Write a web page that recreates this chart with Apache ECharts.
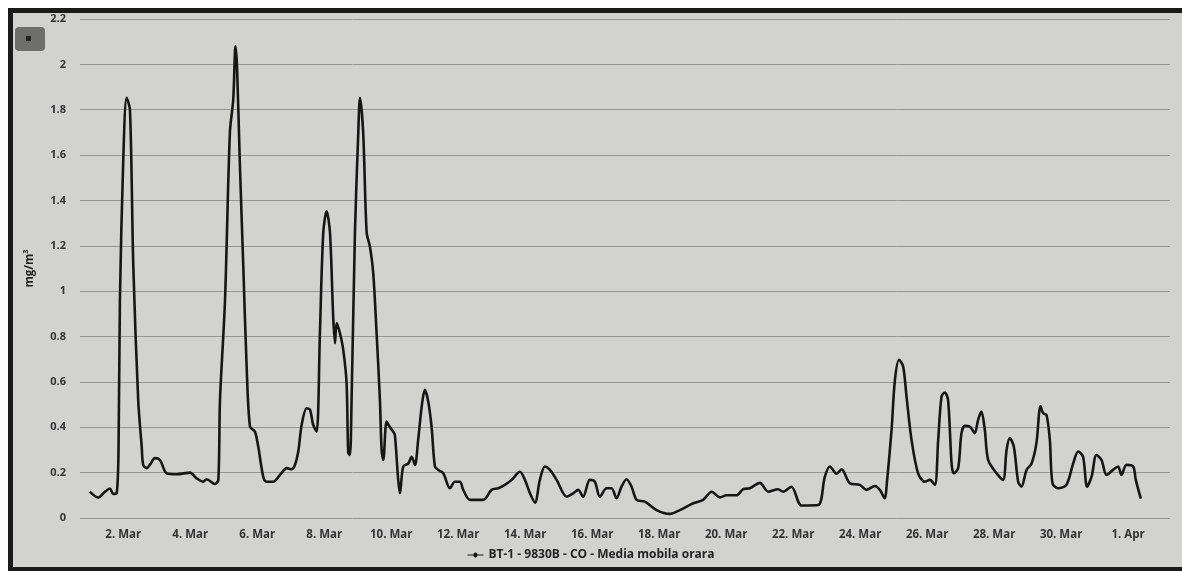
<!DOCTYPE html>
<html>
<head>
<meta charset="utf-8">
<script src="https://cdn.jsdelivr.net/npm/echarts@6/dist/echarts.min.js"></script>
<style>
html,body{margin:0;padding:0;background:#fff;}
#main{width:1182px;height:571px;}
</style>
</head>
<body>
<div id="main"></div>
<script>
// hours since 1 Mar 00:00
const hours = [0,6.1,10.9,14.5,16.8,19.3,20.6,21.6,24.0,26.4,28.8,31.2,34.7,37.2,38.3,40.8,43.1,46.7,50.3,55.1,62.3,71.8,76.6,81.3,83.7,89.7,92.1,93.3,96.9,100.4,102.8,104.4,105.5,107.6,110.0,112.4,114.8,118.3,120.7,124.3,126.7,131.5,136.3,141.1,144.6,147.0,149.4,151.8,155.4,157.8,160.1,162.6,164.9,167.3,169.7,172.1,174.4,175.7,176.9,179.2,181.6,184.0,185.2,186.4,187.6,190.0,192.4,193.6,195.9,198.4,200.7,203.1,205.5,207.9,209.1,210.3,212.7,215.1,217.4,218.6,221.0,222.2,224.6,228.2,230.6,233.0,235.3,237.8,240.1,242.5,244.9,247.3,249.7,253.3,258.1,261.6,265.2,267.6,272.4,281.9,287.9,292.7,297.4,302.3,308.2,311.8,315.4,319.0,322.5,326.1,329.7,334.5,341.7,346.4,350.0,353.5,358.3,361.9,365.5,370.3,373.9,377.4,381.0,384.6,388.2,391.8,397.7,406.1,415.6,422.8,432.4,439.5,445.6,451.5,456.3,463.4,468.2,473.0,480.1,486.1,493.2,496.8,502.8,510.0,521.9,526.7,530.3,535.1,538.7,544.6,551.8,556.6,562.5,566.1,569.7,570.9,574.5,576.9,579.9,582.8,585.2,588.8,593.5,598.3,601.9,605.5,607.9,610.3,612.7,615.0,617.5,619.1,622.2,624.6,627.0,630.6,634.1,636.5,638.9,641.3,643.7,649.7,654.4,656.9,659.2,662.1,665.2,667.6,671.2,674.8,678.3,681.2,683.1,685.5,687.9,689.8,693.8,699.8,704.6,708.2,711.7,714.6,717.8,721.3,724.9,728.5,733.2,736.8,739.2,742.8,747.6,749.5,753.1];
const coValues = [0.116,0.09,0.116,0.13,0.106,0.11,0.3,0.96,1.58,1.853,1.80,1.11,0.52,0.315,0.234,0.22,0.235,0.264,0.256,0.197,0.193,0.2,0.175,0.16,0.171,0.15,0.168,0.52,0.96,1.70,1.845,2.08,1.99,1.55,1.11,0.668,0.403,0.381,0.315,0.182,0.16,0.16,0.19,0.22,0.215,0.234,0.293,0.41,0.484,0.477,0.41,0.381,0.816,1.258,1.352,1.26,0.889,0.771,0.86,0.816,0.742,0.595,0.287,0.278,0.52,1.258,1.70,1.853,1.70,1.258,1.198,1.08,0.816,0.52,0.30,0.256,0.425,0.40,0.381,0.366,0.168,0.109,0.227,0.24,0.27,0.234,0.344,0.49,0.565,0.514,0.403,0.227,0.212,0.197,0.131,0.16,0.16,0.124,0.08,0.08,0.124,0.131,0.146,0.168,0.204,0.168,0.109,0.068,0.168,0.227,0.212,0.168,0.094,0.109,0.124,0.094,0.168,0.16,0.094,0.131,0.131,0.087,0.138,0.171,0.138,0.08,0.072,0.035,0.018,0.035,0.065,0.08,0.116,0.091,0.10,0.10,0.127,0.131,0.155,0.116,0.127,0.116,0.138,0.055,0.057,0.182,0.227,0.195,0.215,0.153,0.146,0.124,0.141,0.124,0.087,0.138,0.389,0.609,0.698,0.668,0.536,0.344,0.197,0.16,0.168,0.146,0.344,0.536,0.553,0.52,0.24,0.197,0.219,0.374,0.406,0.403,0.374,0.433,0.469,0.389,0.256,0.197,0.168,0.30,0.352,0.315,0.16,0.138,0.212,0.24,0.33,0.494,0.462,0.455,0.344,0.153,0.131,0.146,0.24,0.293,0.27,0.138,0.182,0.278,0.256,0.19,0.212,0.227,0.19,0.234,0.227,0.168,0.085];
const tickHours = [24,72,120,168,216,264,312,360,408,456,504,552,600,648,696,744];
const tickLabels = ['2. Mar','4. Mar','6. Mar','8. Mar','10. Mar','12. Mar','14. Mar','16. Mar','18. Mar','20. Mar','22. Mar','24. Mar','26. Mar','28. Mar','30. Mar','1. Apr'];
const seriesName = 'BT-1 - 9830B - CO - Media mobila orara';
const yTitle = 'mg/m³';

const chart = echarts.init(document.getElementById('main'));
const pts = hours.map((h, i) => [h, coValues[i]]);
const font = 'Open Sans';
chart.setOption({
  backgroundColor: '#d2d3d1',
  animation: false,
  grid: {left: 80, right: 12, top: 19, bottom: 53},
  xAxis: {
    type: 'value', min: -7, max: 774,
    splitLine: {show: false},
    axisLine: {show: false},
    axisTick: {show: false},
    axisLabel: {
      customValues: tickHours,
      color: '#333', fontFamily: font, fontSize: 11.5, fontWeight: 'bold', margin: 11,
      formatter: v => { const i = tickHours.indexOf(v); return i >= 0 ? tickLabels[i] : ''; }
    }
  },
  yAxis: {
    type: 'value', min: 0, max: 2.2, interval: 0.2,
    name: yTitle, nameLocation: 'middle', nameGap: 44, nameRotate: 90,
    nameTextStyle: {color: '#222', fontFamily: font, fontSize: 11.5, fontWeight: 'bold'},
    axisLine: {show: false}, axisTick: {show: false},
    axisLabel: {color: '#333', fontFamily: font, fontSize: 11, fontWeight: 'bold', margin: 14,
      formatter: v => String(Math.round(v * 10) / 10)},
    splitLine: {lineStyle: {color: '#969795', width: 1}}
  },
  legend: {
    bottom: 5, left: 'center', itemWidth: 16, itemHeight: 8,
    textStyle: {color: '#222', fontFamily: font, fontSize: 12, fontWeight: 'bold'},
    data: [{name: seriesName, icon: 'path://M0,4 L6,4 A2,2 0 1 1 10,4 L16,4 L16,5 L10,5 A2,2 0 1 1 6,5 L0,5 Z'}]
  },
  graphic: [
    {type: 'rect', shape: {x: 0, y: 0, width: 1182, height: 8}, style: {fill: '#fff'}, silent: true},
    {type: 'rect', shape: {x: 0, y: 0, width: 8, height: 571}, style: {fill: '#fff'}, silent: true},
    {type: 'rect', shape: {x: 8, y: 8, width: 1174, height: 5}, style: {fill: '#1a1a1a'}, silent: true},
    {type: 'rect', shape: {x: 8, y: 8, width: 5, height: 563}, style: {fill: '#1a1a1a'}, silent: true},
    {type: 'rect', shape: {x: 8, y: 567, width: 1174, height: 4}, style: {fill: '#1a1a1a'}, silent: true},
    {type: 'rect', shape: {x: 15, y: 27, width: 30, height: 24, r: 4}, style: {fill: '#6e6f6d'}, silent: true},
    {type: 'rect', shape: {x: 26, y: 36, width: 5, height: 5}, style: {fill: '#222'}, silent: true}
  ],
  series: [{
    name: seriesName, type: 'line', data: pts,
    showSymbol: false, symbol: 'circle', symbolSize: 6,
    smooth: 0.3,
    lineStyle: {color: '#161616', width: 2.6},
    itemStyle: {color: '#161616'}
  }]
});
</script>
</body>
</html>
